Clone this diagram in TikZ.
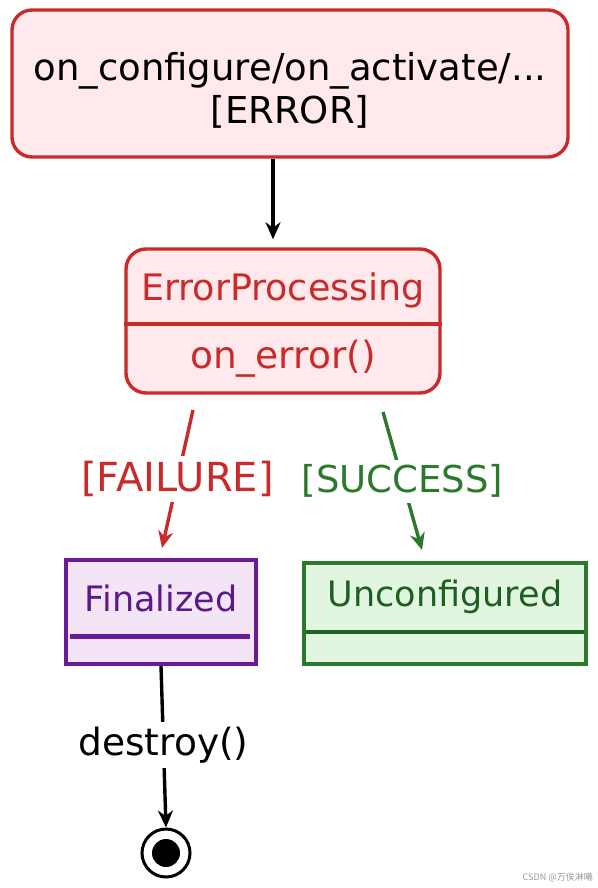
\documentclass[tikz,border=0pt]{standalone}
\usepackage{fontspec}
\setmainfont{DejaVu Sans}
\newfontfamily\cjkfont{Noto Sans CJK SC}
\usetikzlibrary{arrows.meta,calc}
\definecolor{errred}{HTML}{C92A2A}
\definecolor{errfill}{HTML}{FFE9EC}
\definecolor{finpur}{HTML}{6A1B9A}
\definecolor{fintext}{HTML}{5A1A8A}
\definecolor{finfill}{HTML}{F3E5F5}
\definecolor{okgreen}{HTML}{2B7A2B}
\definecolor{oktext}{HTML}{1E5E20}
\definecolor{okfill}{HTML}{E2F5E0}
\tikzset{
  x=1pt, y=-1pt,
  boxshape/.style={draw, line width=3.4pt, inner sep=0pt},
  roundbox/.style={boxshape, rounded corners=20pt},
  lbl/.style={font=\fontsize{35}{43}\selectfont, inner sep=0pt, align=center},
  conn/.style={line width=3.4pt, -{Stealth[length=17pt,width=15pt]}},
  cut/.style={lbl, fill=white, inner ysep=5pt, inner xsep=2pt},
}
\begin{document}
\begin{tikzpicture}
\useasboundingbox (0,0) rectangle (597,888);

% top box
\node[roundbox, draw=errred, fill=errfill, minimum width=556pt, minimum height=147pt] (top) at (290,83.5) {};
\node[lbl, font=\fontsize{37}{43}\selectfont] (toptext) at (290,90) {on\_configure/on\_activate/...\\\relax{[ERROR]}};

% ErrorProcessing
\node[roundbox, draw=errred, fill=errfill, minimum width=314pt, minimum height=144pt] (ep) at (283,321) {};
\draw[errred, line width=3.4pt] ([yshift=-3pt]ep.west) -- ([yshift=-3pt]ep.east);
\node[lbl, font=\fontsize{36.5}{43}\selectfont, text=errred] (epname) at (283,290) {ErrorProcessing};
\node[lbl, font=\fontsize{37.5}{43}\selectfont, text=errred] (epact) at (283,359) {on\_error()};

% Finalized
\node[boxshape, draw=finpur, fill=finfill, line width=4pt, minimum width=190pt, minimum height=104pt] (fin) at (161,612) {};
\draw[finpur, line width=5pt] ($(fin.west)+(6,24)$) -- ($(fin.east)+(-8,24)$);
\node[lbl, text=fintext] (finname) at (161,598) {Finalized};

% Unconfigured
\node[boxshape, draw=okgreen, fill=okfill, line width=4pt, minimum width=282pt, minimum height=101pt] (unc) at (445,613.5) {};
\draw[okgreen!80!black, line width=4.5pt] ($(unc.west)+(4,18.5)$) -- ($(unc.east)+(-4,18.5)$);
\node[lbl, text=oktext] (uncname) at (445,597) {Unconfigured};

% final state
\node[circle, draw=black, line width=3pt, fill=white, minimum size=48pt, inner sep=0pt] (end) at (166,853) {};
\fill[black] (end.center) circle (14pt);

% connectors
\draw[conn, black, shorten >=8pt] ([xshift=-17pt]top.south) -- ([xshift=-10pt]ep.north);

\coordinate (f1) at (193,410);
\coordinate (f2) at (162,548);
\draw[conn, errred] (f1) -- node[cut, font=\fontsize{40}{43}\selectfont, text=errred] (flbl) {{[FAILURE]}} (f2);

\coordinate (s1) at (383,412);
\coordinate (s2) at (422,550);
\draw[conn, okgreen] (s1) -- node[cut, font=\fontsize{37}{43}\selectfont, text=okgreen] (slbl) {{[SUCCESS]}} (s2);

\draw[conn, black] (fin.south) -- node[cut, pos=0.49, font=\fontsize{37.5}{43}\selectfont] (dlbl) {destroy()} (end.north);

% watermark
\node[font=\cjkfont\fontsize{9}{10}\selectfont, text=black!40, anchor=east, inner sep=0pt] (wm) at (593,877) {CSDN @万俟淋曦};
\end{tikzpicture}
\end{document}
